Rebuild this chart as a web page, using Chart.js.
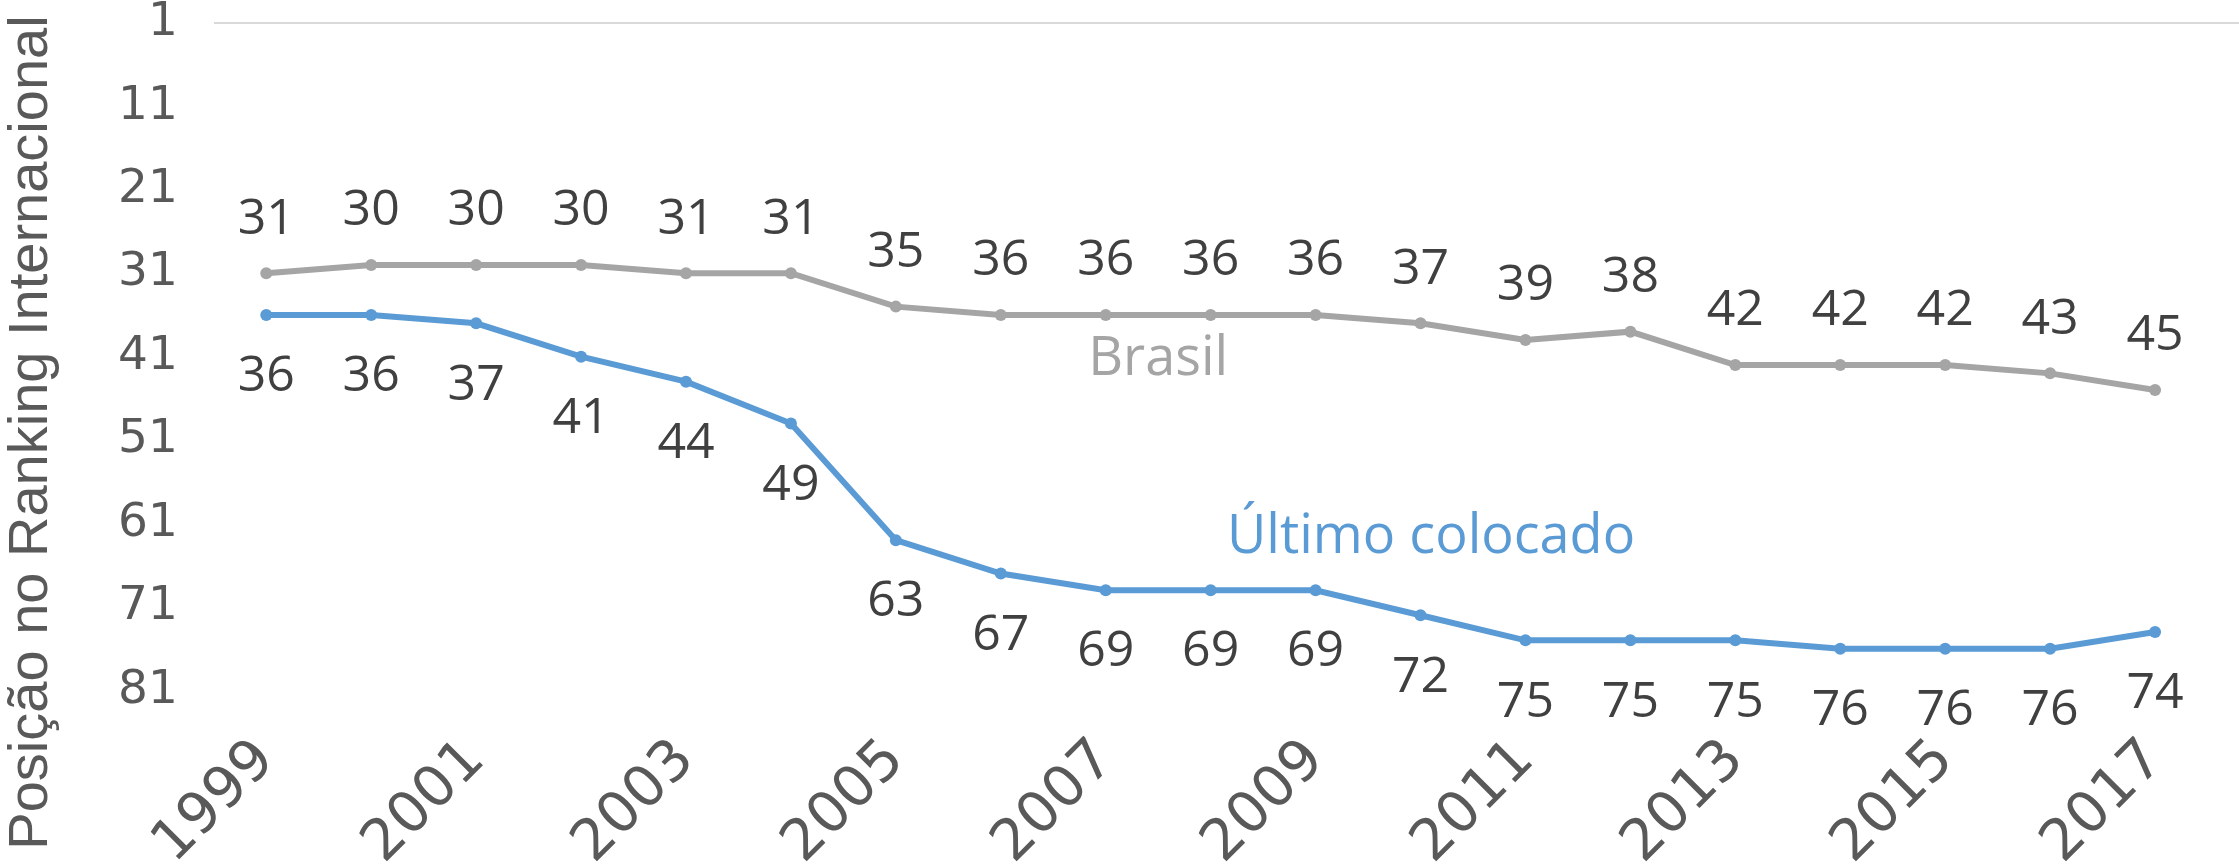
<!DOCTYPE html>
<html>
<head>
<meta charset="utf-8">
<script src="https://cdn.jsdelivr.net/npm/chart.js@4.4.1/dist/chart.umd.min.js"></script>
<style>
  html, body { margin: 0; padding: 0; background: #fff; }
  #wrap { width: 2239px; height: 865px; }
</style>
</head>
<body>
<div id="wrap"><canvas id="myChart"></canvas></div>
<script>
const years = [1999, 2000, 2001, 2002, 2003, 2004, 2005, 2006, 2007, 2008, 2009, 2010, 2011, 2012, 2013, 2014, 2015, 2016, 2017];
const brasil = [31, 30, 30, 30, 31, 31, 35, 36, 36, 36, 36, 37, 39, 38, 42, 42, 42, 43, 45];
const ultimo = [36, 36, 37, 41, 44, 49, 63, 67, 69, 69, 69, 72, 75, 75, 75, 76, 76, 76, 74];
const tickYears = [1999, 2001, 2003, 2005, 2007, 2009, 2011, 2013, 2015, 2017];
const rankTicks = [1, 11, 21, 31, 41, 51, 61, 71, 81];
const seriesNames = ['Brasil', 'Último colocado'];
const nameYear = [2007.5, 2010.1];
const nameRank = [41.3, 62.7];
const axisTitle = 'Posição no Ranking Internacional';

const gray = '#a5a5a5';
const blue = '#5b9bd5';

// value labels above/below points, series names, rotated axis title
const labelPlugin = {
  id: 'labels',
  afterDatasetsDraw(chart) {
    const ctx = chart.ctx;
    ctx.save();
    ctx.textAlign = 'center';
    ctx.textBaseline = 'middle';
    chart.data.datasets.forEach((ds, i) => {
      const meta = chart.getDatasetMeta(i);
      ctx.font = '50px "Open Sans"';
      ctx.fillStyle = '#404040';
      meta.data.forEach((pt, j) => {
        ctx.fillText(String(ds.data[j].y), pt.x, pt.y + ds.labelOffset);
      });
      ctx.font = '54px "Open Sans"';
      ctx.fillStyle = ds.borderColor;
      ctx.fillText(seriesNames[i],
        chart.scales.x.getPixelForValue(nameYear[i]),
        chart.scales.y.getPixelForValue(nameRank[i]));
    });
    ctx.restore();

    ctx.save();
    ctx.translate(47, chart.height / 2);
    ctx.rotate(-Math.PI / 2);
    ctx.font = '56px "Liberation Sans"';
    ctx.fillStyle = '#595959';
    ctx.textAlign = 'center';
    ctx.textBaseline = 'alphabetic';
    ctx.fillText(axisTitle, 0, 0);
    ctx.restore();
  }
};

const config = {
  type: 'line',
  data: {
    datasets: [{
      label: seriesNames[0],
      data: years.map((y, i) => ({x: y, y: brasil[i]})),
      borderColor: gray,
      backgroundColor: gray,
      pointBackgroundColor: gray,
      borderWidth: 6,
      pointRadius: 6,
      pointBorderWidth: 0,
      labelOffset: -54
    }, {
      label: seriesNames[1],
      data: years.map((y, i) => ({x: y, y: ultimo[i]})),
      borderColor: blue,
      backgroundColor: blue,
      pointBackgroundColor: blue,
      borderWidth: 6,
      pointRadius: 6,
      pointBorderWidth: 0,
      labelOffset: 62
    }]
  },
  options: {
    responsive: true,
    maintainAspectRatio: false,
    animation: false,
    layout: {autoPadding: false, padding: {left: 82, right: 0, top: 23, bottom: 0}},
    plugins: {legend: {display: false}, tooltip: {enabled: false}},
    scales: {
      x: {
        type: 'linear',
        min: 1998.5,
        max: 2017.8,
        afterBuildTicks: s => { s.ticks = tickYears.map(v => ({value: v})); },
        afterFit: s => { s.paddingLeft = 0; s.paddingRight = 0; },
        grid: {display: false},
        border: {display: false},
        ticks: {
          autoSkip: false,
          minRotation: 45,
          maxRotation: 45,
          padding: -13,
          color: '#595959',
          font: {family: 'DejaVu Sans', size: 57},
          callback: v => String(v)
        }
      },
      y: {
        type: 'linear',
        reverse: true,
        min: 1,
        max: 86,
        afterBuildTicks: s => { s.ticks = rankTicks.map(v => ({value: v})); },
        afterFit: s => { s.paddingTop = 0; s.paddingBottom = 0; },
        grid: {
          drawTicks: false,
          lineWidth: 2,
          color: c => (c.tick && c.tick.value === 1) ? '#d9d9d9' : 'rgba(0,0,0,0)'
        },
        border: {display: false},
        ticks: {
          padding: 36,
          color: '#595959',
          font: {family: 'DejaVu Sans', size: 47}
        }
      }
    }
  },
  plugins: [labelPlugin]
};

const myChart = new Chart(document.getElementById('myChart'), config);
</script>
</body>
</html>
